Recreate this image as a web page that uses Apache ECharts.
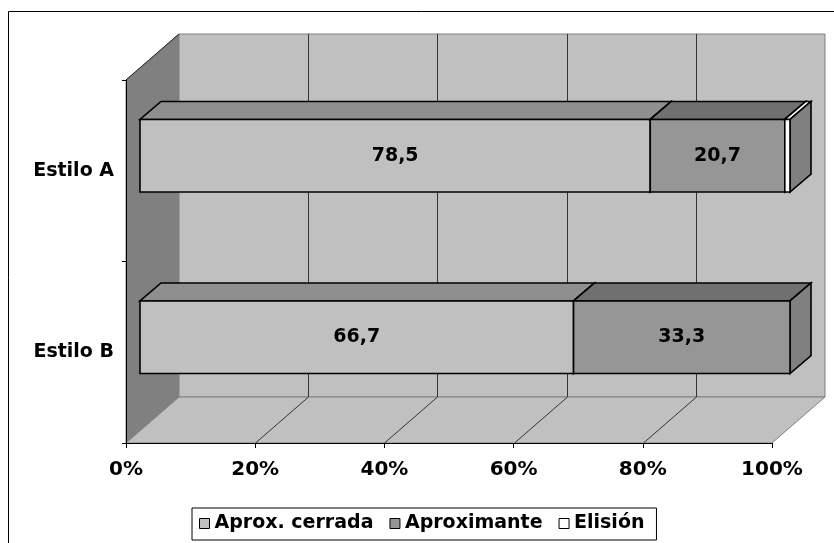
<!DOCTYPE html>
<html>
<head>
<meta charset="utf-8">
<script src="https://cdn.jsdelivr.net/npm/echarts@6/dist/echarts.min.js"></script>
<style>
  html, body { margin: 0; padding: 0; background: #fff; }
  #chart { width: 834px; height: 543px; }
</style>
</head>
<body>
<div id="chart"></div>
<script>
// datos del gráfico
const categories = ['Estilo A', 'Estilo B']
const seriesNames = ['Aprox. cerrada', 'Aproximante', 'Elisión']
const aproxCerrada = [78.5, 66.7]
const aproximante = [20.7, 33.3]
const elision = [0.8, 0]
const percentTicks = [0, 20, 40, 60, 80, 100]

// colores: frente, tapa, lado
const palette = [
  { front: '#c0c0c0', top: '#8f8f8f', side: '#808080' },
  { front: '#969696', top: '#707070', side: '#808080' },
  { front: '#ffffff', top: '#ffffff', side: '#808080' }
]

const WALL_DEPTH = [53, -46]
const BAR_SHIFT = [14, -15]
const BAR_SCALE = 650 / 646
const BAR_DEPTH = [21, -18]
const FONT = '"DejaVu Sans", sans-serif'

const values = [aproxCerrada, aproximante, elision]

// paredes y suelo 3D
function renderWalls(params, api) {
  const cs = params.coordSys
  const x = cs.x
  const y = cs.y
  const w = cs.width
  const h = cs.height
  const dx = WALL_DEPTH[0]
  const dy = WALL_DEPTH[1]
  const children = [
    {
      type: 'polygon',
      shape: { points: [[x, y], [x + dx, y + dy], [x + dx, y + h + dy], [x, y + h]] },
      style: { fill: '#808080', stroke: '#808080', lineWidth: 1 }
    },
    {
      type: 'rect',
      shape: { x: x + dx, y: y + dy, width: w, height: h },
      style: { fill: '#c0c0c0', stroke: '#808080', lineWidth: 1 }
    },
    {
      type: 'polygon',
      shape: { points: [[x, y + h], [x + dx, y + h + dy], [x + w + dx, y + h + dy], [x + w, y + h]] },
      style: { fill: '#c0c0c0', stroke: '#808080', lineWidth: 1 }
    },
    {
      type: 'line',
      shape: { x1: x, y1: y, x2: x + dx, y2: y + dy },
      style: { stroke: '#222', lineWidth: 1 }
    }
  ]
  percentTicks.slice(1, -1).forEach(function (v) {
    const px = Math.round(api.coord([v, 0])[0]) + 0.5
    children.push({
      type: 'line',
      shape: { x1: px + dx, y1: y + dy, x2: px + dx, y2: y + h + dy },
      style: { stroke: '#333', lineWidth: 1 }
    })
    children.push({
      type: 'line',
      shape: { x1: px, y1: y + h, x2: px + dx, y2: y + h + dy },
      style: { stroke: '#333', lineWidth: 1 }
    })
  })
  return { type: 'group', children: children }
}

// barras 3D apiladas
function makeBarRenderer(si) {
  const col = palette[si]
  return function (params, api) {
    const start = api.value(0)
    const end = api.value(1)
    const cat = api.value(2)
    const val = api.value(3)
    if (!(val > 0)) return null
    const left = params.coordSys.x
    const a = api.coord([start, cat])
    const b = api.coord([end, cat])
    const bh = api.size([0, 1])[1] * 0.4
    const x0 = left + BAR_SHIFT[0] + (a[0] - left) * BAR_SCALE
    const x1 = left + BAR_SHIFT[0] + (b[0] - left) * BAR_SCALE
    const yt = a[1] + BAR_SHIFT[1] - bh / 2
    const yb = yt + bh
    const ddx = BAR_DEPTH[0]
    const ddy = BAR_DEPTH[1]
    const edge = { stroke: '#000', lineWidth: 1.6, lineJoin: 'miter' }
    const children = [
      {
        type: 'polygon',
        shape: { points: [[x0, yt], [x0 + ddx, yt + ddy], [x1 + ddx, yt + ddy], [x1, yt]] },
        style: Object.assign({ fill: col.top }, edge)
      },
      {
        type: 'polygon',
        shape: { points: [[x1, yt], [x1 + ddx, yt + ddy], [x1 + ddx, yb + ddy], [x1, yb]] },
        style: Object.assign({ fill: col.side }, edge)
      },
      {
        type: 'rect',
        shape: { x: x0, y: yt, width: x1 - x0, height: bh },
        style: Object.assign({ fill: col.front }, edge)
      }
    ]
    if (val >= 5) {
      children.push({
        type: 'text',
        x: (x0 + x1) / 2,
        y: (yt + yb) / 2,
        style: {
          text: val.toFixed(1).replace('.', ','),
          fill: '#000',
          font: 'bold 19px ' + FONT,
          align: 'center',
          verticalAlign: 'middle'
        }
      })
    }
    return { type: 'group', children: children }
  }
}

const barSeries = seriesNames.map(function (name, si) {
  const data = categories.map(function (c, ci) {
    let start = 0
    for (let k = 0; k < si; k++) start += values[k][ci]
    return [start, start + values[si][ci], ci, values[si][ci]]
  })
  return {
    name: name,
    type: 'custom',
    z: 3,
    renderItem: makeBarRenderer(si),
    itemStyle: { color: palette[si].front },
    encode: { x: [0, 1], y: 2 },
    data: data
  }
})

const myChart = echarts.init(document.getElementById('chart'))
myChart.setOption({
  animation: false,
  backgroundColor: '#fff',
  graphic: [
    {
      type: 'rect',
      shape: { x: 8.5, y: 11.5, width: 900, height: 600 },
      style: { fill: 'none', stroke: '#000', lineWidth: 1 },
      z: 0
    }
  ],
  grid: { left: 126, right: 62, top: 80, bottom: 100 },
  xAxis: {
    type: 'value',
    min: 0,
    max: 100,
    interval: 20,
    z: 10,
    splitLine: { show: false },
    axisLine: { show: true, lineStyle: { color: '#000', width: 1 } },
    axisTick: { show: true, length: 5, lineStyle: { color: '#000' } },
    axisLabel: {
      formatter: '{value}%',
      margin: 17,
      color: '#000',
      fontWeight: 'bold',
      fontSize: 20,
      fontFamily: FONT
    }
  },
  yAxis: {
    type: 'category',
    inverse: true,
    data: categories,
    z: 10,
    axisLine: { show: true, lineStyle: { color: '#000', width: 1 } },
    axisTick: { show: true, length: 4, lineStyle: { color: '#000' } },
    axisLabel: {
      margin: 12,
      color: '#000',
      fontWeight: 'bold',
      fontSize: 19,
      fontFamily: FONT
    }
  },
  legend: {
    left: 192,
    top: 508,
    data: seriesNames.map(function (n) { return { name: n, icon: 'rect' } }),
    itemWidth: 10,
    itemHeight: 10,
    itemGap: 16,
    padding: [6, 12, 7, 7],
    borderColor: '#000',
    borderWidth: 1,
    itemStyle: { borderColor: '#000', borderWidth: 1 },
    textStyle: { color: '#000', fontWeight: 'bold', fontSize: 19, fontFamily: FONT }
  },
  series: [
    {
      name: 'paredes',
      type: 'custom',
      z: 1,
      silent: true,
      renderItem: renderWalls,
      encode: { x: 0, y: 1 },
      data: [[0, 0]]
    }
  ].concat(barSeries)
})
</script>
</body>
</html>
